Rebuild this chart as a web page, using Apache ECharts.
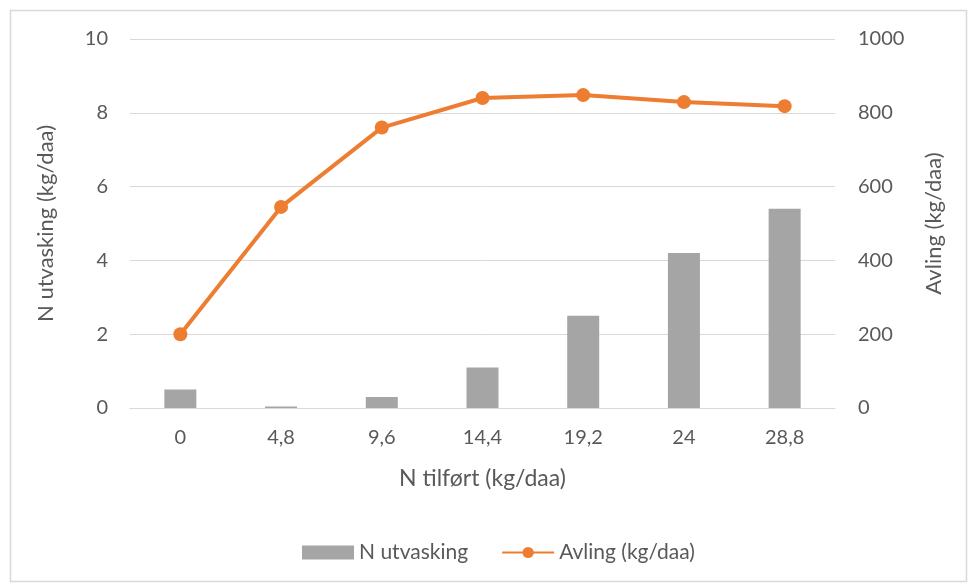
<!DOCTYPE html>
<html><head><meta charset="utf-8">
<script src="https://cdn.jsdelivr.net/npm/echarts@6/dist/echarts.min.js"></script>
<style>html,body{margin:0;padding:0;background:#fff}#c{width:970px;height:583px}</style>
</head><body><div id="c"></div>
<script>
const categories = ['0','4,8','9,6','14,4','19,2','24','28,8'];
const nUtvasking = [0.5, 0.04, 0.3, 1.1, 2.5, 4.2, 5.4];
const avling = [200, 545, 760, 840, 848, 829, 818];
const leftTicks = [0, 10, 2];
const rightTicks = [0, 1000, 200];

const txt = '#595959';
const font = 'Lato, "Open Sans", sans-serif';
const chart = echarts.init(document.getElementById('c'));
chart.setOption({
  animation: false,
  textStyle: {fontFamily: font},
  graphic: [{type:'rect', shape:{x:10.5,y:10.5,width:956,height:571}, style:{fill:'none', stroke:'#d9d9d9', lineWidth:1.5}, silent:true}],
  grid: {left:130, right:135, top:39, bottom:175},
  legend: {
    top: 537, left: 297, itemGap: 33, itemWidth: 52, itemHeight: 14,
    textStyle: {color: txt, fontSize: 21, fontFamily: font, padding: [0,0,0,0]},
    data: [{name:'N utvasking', icon:'rect'}, {name:'Avling (kg/daa)'}]
  },
  xAxis: {
    type: 'category', data: categories,
    name: 'N tilført (kg/daa)', nameLocation: 'middle', nameGap: 59,
    nameTextStyle: {color: txt, fontSize: 23, fontFamily: font},
    axisLine: {show: true, lineStyle: {color: '#d9d9d9'}},
    axisTick: {show: false},
    axisLabel: {color: txt, fontSize: 20, margin: 20, fontFamily: font}
  },
  yAxis: [{
    type: 'value', min: leftTicks[0], max: leftTicks[1], interval: leftTicks[2],
    name: 'N utvasking (kg/daa)', nameLocation: 'middle', nameGap: 73, nameRotate: 90,
    nameTextStyle: {color: txt, fontSize: 22, fontFamily: font},
    axisLine: {show: false}, axisTick: {show: false},
    axisLabel: {color: txt, fontSize: 20, margin: 22, fontFamily: font},
    splitLine: {lineStyle: {color: '#d9d9d9'}}
  }, {
    type: 'value', min: rightTicks[0], max: rightTicks[1], interval: rightTicks[2],
    name: 'Avling (kg/daa)', nameLocation: 'middle', nameGap: 88, nameRotate: 90,
    nameTextStyle: {color: txt, fontSize: 22, fontFamily: font},
    axisLine: {show: false}, axisTick: {show: false},
    axisLabel: {color: txt, fontSize: 20, margin: 23, fontFamily: font, formatter: v => String(v)},
    splitLine: {show: false}
  }],
  series: [{
    name: 'N utvasking', type: 'bar', data: nUtvasking, barWidth: 32,
    itemStyle: {color: '#a5a5a5'}
  }, {
    name: 'Avling (kg/daa)', type: 'line', yAxisIndex: 1, data: avling,
    symbol: 'circle', symbolSize: 14,
    lineStyle: {color: '#ed7d31', width: 4},
    itemStyle: {color: '#ed7d31'}
  }]
});
</script></body></html>
